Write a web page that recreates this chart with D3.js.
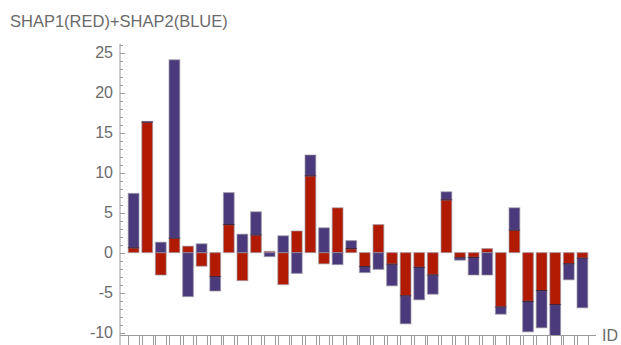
<!DOCTYPE html>
<html>
<head>
<meta charset="utf-8">
<script src="https://cdn.jsdelivr.net/npm/d3@7"></script>
<style>
  html, body { margin: 0; padding: 0; background: #fff; }
  svg { display: block; font-family: "Liberation Sans", Arial, sans-serif; }
</style>
</head>
<body>
<svg id="chart" width="621" height="345"></svg>
<script>
// Per-ID contributions: SHAP1 drawn first (red), SHAP2 stacked after it (blue)
const ids = d3.range(1, 35);
const shap1 = [0.6, 16.3, -2.8, 1.8, 0.8, -1.7, -3.0, 3.5, -3.5, 2.2,
               0.15, -4.0, 2.7, 9.6, -1.4, 5.6, 0.5, -1.75, 3.5, -1.45,
               -5.4, -1.85, -2.8, 6.6, -0.65, -0.6, 0.5, -6.8, 2.8, -6.1,
               -4.75, -6.5, -1.4, -0.7];
const shap2 = [6.8, 0.1, 1.3, 22.3, -5.5, 1.1, -1.8, 4.0, 2.3, 2.9,
               -0.5, 2.1, -2.6, 2.6, 3.1, -1.5, 1.0, -0.75, -2.1, -2.7,
               -3.5, -4.05, -2.4, 1.0, -0.3, -2.2, -2.8, -0.9, 2.8, -3.8,
               -4.65, -4.3, -2.0, -6.2];
const yTickValues = [-10, -5, 0, 5, 10, 15, 20, 25];
const title = "SHAP1(RED)+SHAP2(BLUE)";
const xLabel = "ID";

const svg = d3.select("#chart");
const x = d3.scaleLinear().domain([0, 35]).range([120, 596]);
const y = d3.scaleLinear().domain([-10.3, 26.1]).range([335, 43.8]);
const barW = 0.79;
const red = "#b21a00", blue = "#4b3a7b";
const axisColor = "#9a9a9a", textColor = "#6a6a6a";

svg.append("defs").append("clipPath").attr("id", "plot")
  .append("rect").attr("x", 118).attr("y", 40).attr("width", 480).attr("height", 295);

// stack segments: positives pile upward, negatives pile downward
const segs = [];
const joins = [];
ids.forEach((id, i) => {
  const a = shap1[i], b = shap2[i];
  const r = { id, y0: 0, y1: a, color: red };
  const bl = (Math.sign(a) === Math.sign(b))
    ? { id, y0: a, y1: a + b, color: blue }
    : { id, y0: 0, y1: b, color: blue };
  segs.push(r, bl);
  if (Math.sign(a) === Math.sign(b)) joins.push({ id, v: a });
});

const g = svg.append("g").attr("clip-path", "url(#plot)");

g.selectAll("rect.seg").data(segs).join("rect")
  .attr("class", "seg")
  .attr("x", d => x(d.id - barW / 2))
  .attr("width", x(barW) - x(0))
  .attr("y", d => y(Math.max(d.y0, d.y1)))
  .attr("height", d => Math.abs(y(d.y0) - y(d.y1)))
  .attr("fill", d => d.color)
  .attr("stroke", "rgba(150,145,160,0.55)")
  .attr("stroke-width", 1.2);

g.selectAll("line.join").data(joins).join("line")
  .attr("class", "join")
  .attr("x1", d => x(d.id - barW / 2))
  .attr("x2", d => x(d.id + barW / 2))
  .attr("y1", d => y(d.v)).attr("y2", d => y(d.v))
  .attr("stroke", "#3b1a35").attr("stroke-width", 1);

// y axis with minor ticks every unit
const yAxisG = svg.append("g");
yAxisG.append("line")
  .attr("x1", 120).attr("x2", 120).attr("y1", y(26.1)).attr("y2", 345)
  .attr("stroke", axisColor).attr("stroke-width", 1);
const minor = d3.range(-10, 27);
yAxisG.selectAll("line.tk").data(minor).join("line")
  .attr("class", "tk")
  .attr("x1", 120)
  .attr("x2", d => 120 + (d % 5 === 0 ? 5 : 3))
  .attr("y1", d => Math.round(y(d)) + 0.5).attr("y2", d => Math.round(y(d)) + 0.5)
  .attr("stroke", axisColor).attr("stroke-width", 1);
yAxisG.selectAll("text").data(yTickValues).join("text")
  .attr("x", 113).attr("y", d => y(d))
  .attr("dy", "0.36em")
  .attr("text-anchor", "end")
  .attr("font-size", 16)
  .attr("fill", textColor)
  .text(d => d);

// x axis with ticks at both edges of every bar
const xAxisG = svg.append("g");
xAxisG.append("line")
  .attr("x1", 120).attr("x2", x(35)).attr("y1", 335.5).attr("y2", 335.5)
  .attr("stroke", axisColor).attr("stroke-width", 1);
const edges = ids.flatMap(id => [id - barW / 2, id + barW / 2]);
xAxisG.selectAll("line.tk").data(edges).join("line")
  .attr("class", "tk")
  .attr("x1", d => Math.round(x(d)) + 0.5).attr("x2", d => Math.round(x(d)) + 0.5)
  .attr("y1", 335.5).attr("y2", 346)
  .attr("stroke", axisColor).attr("stroke-width", 1);

svg.append("text")
  .attr("x", 602).attr("y", 335).attr("dy", "0.36em")
  .attr("font-size", 16).attr("fill", textColor)
  .text(xLabel);

svg.append("text")
  .attr("x", 10).attr("y", 27)
  .attr("font-size", 16.5).attr("fill", textColor)
  .text(title);
</script>
</body>
</html>
